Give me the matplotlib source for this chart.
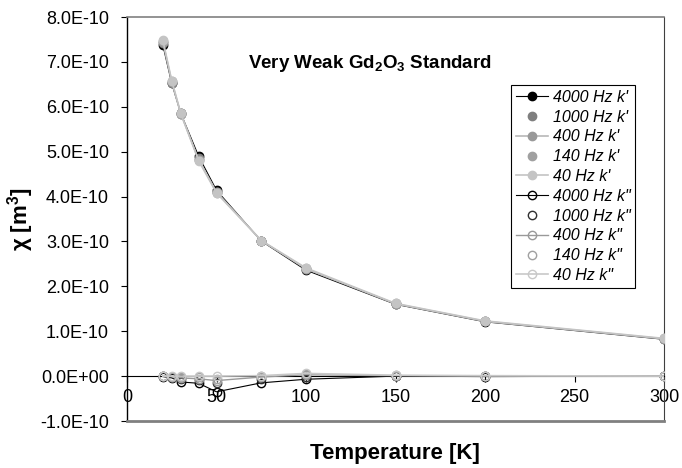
import numpy as np
import matplotlib
matplotlib.use('Agg')
from matplotlib import pyplot as plt
from matplotlib.ticker import FuncFormatter

plt.rcParams['font.family'] = ['Liberation Sans', 'DejaVu Sans']
plt.rcParams['mathtext.fontset'] = 'custom'
plt.rcParams['mathtext.rm'] = 'Liberation Sans'
plt.rcParams['mathtext.bf'] = 'Liberation Sans:bold'
plt.rcParams['mathtext.it'] = 'Liberation Sans:italic'

# temperatures [K]
temps = [20, 25, 30, 40, 50, 75, 100, 150, 200, 300]

# real part k' (units of 1e-10 m^3)
kp_4000 = [7.38, 6.52, 5.86, 4.90, 4.14, 3.01, 2.36, 1.60, 1.21, 0.82]
kp_1000 = [7.42, 6.54, 5.85, 4.85, 4.11, 3.01, 2.38, 1.61, 1.22, 0.83]
kp_400 = [7.45, 6.56, 5.85, 4.82, 4.10, 3.02, 2.39, 1.61, 1.22, 0.83]
kp_140 = [7.47, 6.57, 5.85, 4.81, 4.09, 3.02, 2.40, 1.62, 1.23, 0.84]
kp_40 = [7.49, 6.58, 5.86, 4.80, 4.08, 3.02, 2.41, 1.62, 1.23, 0.84]

# imaginary part k''
kpp_4000 = [-0.01, -0.04, -0.13, -0.16, -0.35, -0.15, -0.07, 0.0, -0.01, 0.0]
kpp_1000 = [0.0, -0.02, -0.07, -0.08, -0.15, -0.06, -0.03, 0.0, 0.0, 0.0]
kpp_400 = [0.0, -0.01, -0.04, -0.06, -0.10, -0.02, 0.03, 0.01, 0.0, 0.0]
kpp_140 = [0.0, -0.01, -0.02, -0.03, -0.06, 0.0, 0.05, 0.02, 0.0, 0.0]
kpp_40 = [0.0, 0.0, 0.0, 0.0, 0.0, 0.01, 0.06, 0.02, 0.01, 0.0]

labels_p = ["4000 Hz k'", "1000 Hz k'", "400 Hz k'", "140 Hz k'", "40 Hz k'"]
labels_pp = ['4000 Hz k"', '1000 Hz k"', '400 Hz k"', '140 Hz k"', '40 Hz k"']

scale = 1e-10

fig = plt.figure(figsize=(6.82, 4.68), dpi=100)
ax = fig.add_axes([127/682, 1-421/468, (664-127)/682, (421-17)/468])

t = np.array(temps)
ms = 6
# k' series
ax.plot(t, np.array(kp_4000)*scale, '-o', color='black', lw=0.8, ms=ms, label=labels_p[0], zorder=3)
ax.plot(t, np.array(kp_1000)*scale, 'o', ls='none', color='#7f7f7f', ms=ms, label=labels_p[1], zorder=3)
ax.plot(t, np.array(kp_400)*scale, '-o', color='#b8b8b8', mfc='#999999', mec='#999999', lw=1.2, ms=ms, label=labels_p[2], zorder=3)
ax.plot(t, np.array(kp_140)*scale, 'o', ls='none', color='#a0a0a0', ms=ms, label=labels_p[3], zorder=3)
ax.plot(t, np.array(kp_40)*scale, '-o', color='#c4c4c4', lw=1.2, ms=ms, label=labels_p[4], zorder=3)

# k'' series
ax.plot(t, np.array(kpp_4000)*scale, '-o', color='black', mfc='none', lw=0.8, ms=ms, label=labels_pp[0], zorder=3)
ax.plot(t, np.array(kpp_1000)*scale, 'o', ls='none', mec='#303030', mfc='none', ms=ms, label=labels_pp[1], zorder=3)
ax.plot(t, np.array(kpp_400)*scale, '-o', color='#999999', mfc='none', lw=1.0, ms=ms, label=labels_pp[2], zorder=3)
ax.plot(t, np.array(kpp_140)*scale, 'o', ls='none', mec='#a0a0a0', mfc='none', ms=ms, label=labels_pp[3], zorder=3)
ax.plot(t, np.array(kpp_40)*scale, '-o', color='#c8c8c8', mfc='none', lw=1.2, ms=ms, label=labels_pp[4], zorder=3)

ax.set_xlim(0, 300)
ax.set_ylim(-1e-10, 8e-10)
ax.set_xticks([0, 50, 100, 150, 200, 250, 300])
ax.set_yticks(np.arange(-1, 9)*scale)
ax.yaxis.set_major_formatter(FuncFormatter(lambda v, p: '%.1E' % v))

# x axis sits on zero, gray box around the plot
ax.spines['bottom'].set_position(('data', 0))
ax.spines['bottom'].set_color('black')
ax.spines['bottom'].set_linewidth(0.8)
ax.spines['left'].set_color('black')
ax.spines['left'].set_linewidth(1.0)
ax.spines['top'].set_color('#808080')
ax.spines['right'].set_color('#404040')
ax.spines['top'].set_linewidth(1.2)
ax.axhline(-1e-10, color='#808080', lw=2.0, clip_on=False, zorder=5)

ax.tick_params(axis='y', direction='out', length=4, width=0.8, pad=9, labelsize=13)
ax.tick_params(axis='x', direction='out', length=4, width=0.8, pad=5, labelsize=13)

fig.text(395/682, 1-453/468, 'Temperature [K]', ha='center', va='center',
         fontsize=16, fontweight='bold')
fig.text(21/682, 1-219/468, r'χ [m$^{\mathbf{3}}$]', ha='center', va='center',
         rotation=90, fontsize=16, fontweight='bold')

ax.text(0.4525, 0.886, r'Very Weak Gd$_{\mathbf{2}}$O$_{\mathbf{3}}$ Standard',
        transform=ax.transAxes, ha='center', va='center', fontsize=13.5, fontweight='bold')

leg = ax.legend(loc='upper right', bbox_to_anchor=((635-127)/537, (421-85)/404),
                borderaxespad=0, fancybox=False, framealpha=1, edgecolor='black',
                prop={'style': 'italic', 'size': 11.5}, handlelength=2.0,
                labelspacing=0.3, borderpad=0.3, handletextpad=0.3)
leg.get_frame().set_linewidth(0.8)

fig.savefig('out.png', dpi=100)
